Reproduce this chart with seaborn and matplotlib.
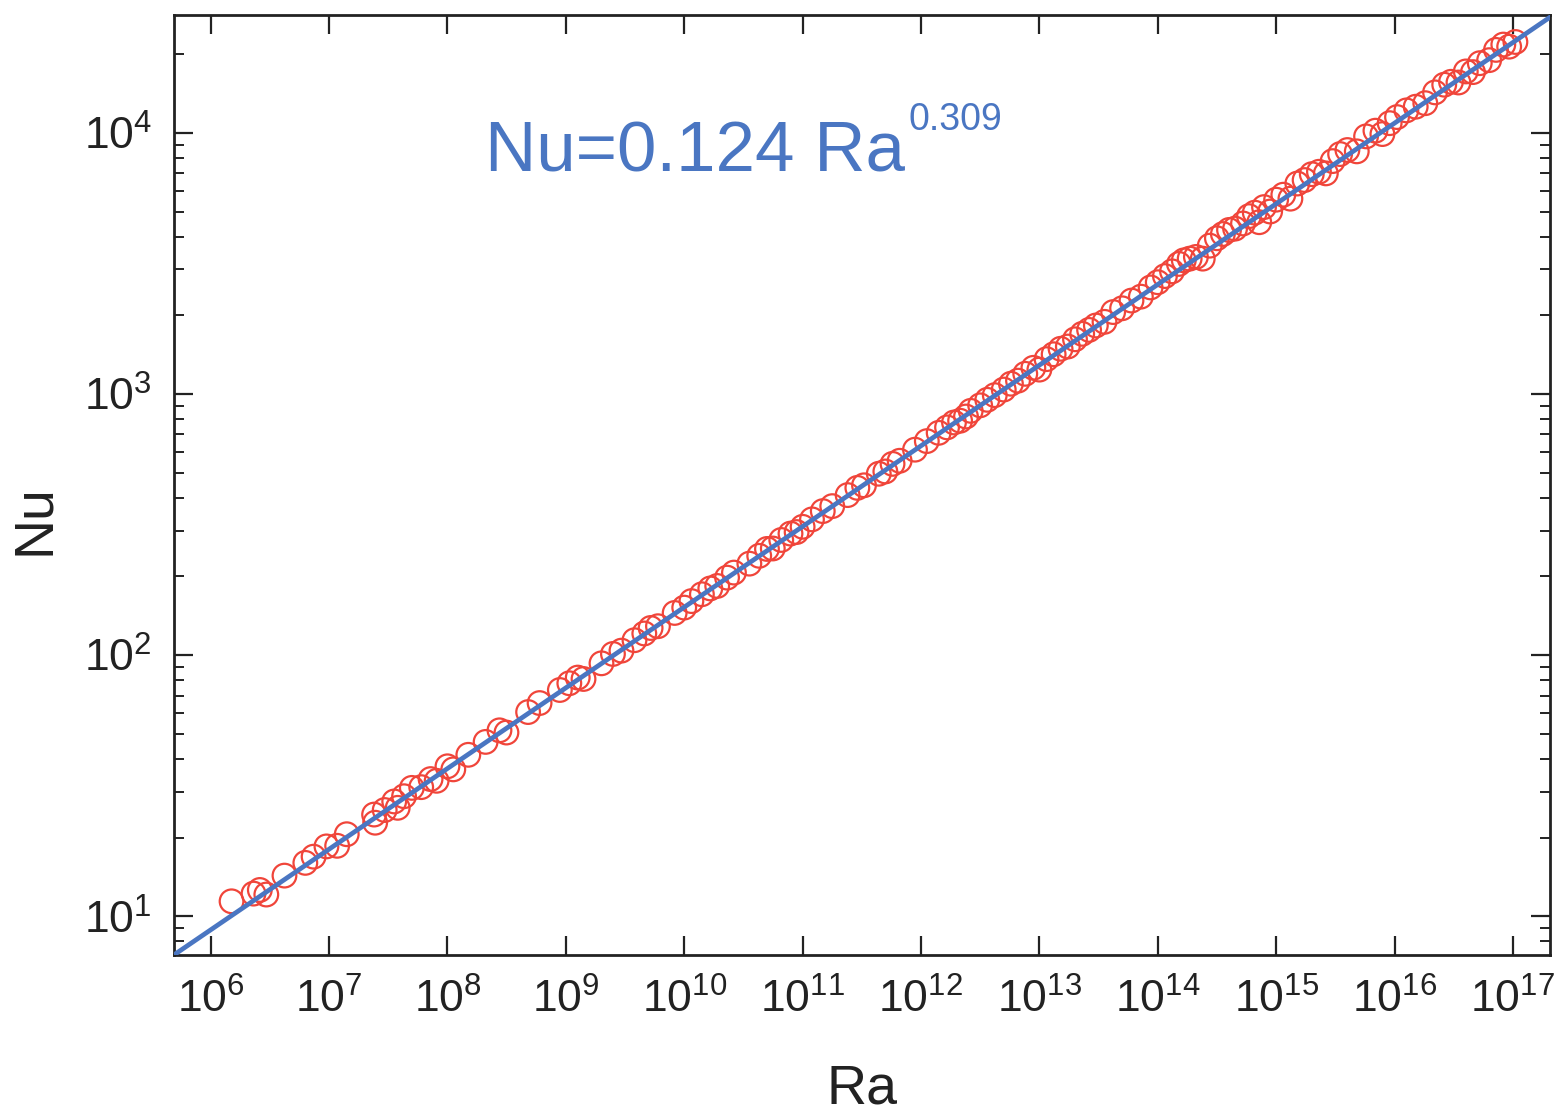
import matplotlib
matplotlib.use('Agg')
import matplotlib.pyplot as plt
import matplotlib.ticker as mticker
import seaborn as sns
import pandas as pd

# Ra, Nu
ra = [1.5e6, 2.3e6, 2.6e6, 2.95e6, 4.2e6, 6.3e6, 7.4e6, 9.5e6, 1.17e7, 1.41e7,
      2.4e7, 2.45e7, 2.95e7, 3.55e7, 3.8e7, 4.3e7, 5e7, 6e7, 7.2e7, 8.1e7,
      1e8, 1.12e8, 1.5e8, 2.1e8, 2.75e8, 3.15e8, 4.8e8, 6e8, 8.9e8, 1.07e9,
      1.26e9, 1.41e9, 2e9, 2.5e9, 2.95e9, 3.8e9, 4.6e9, 5.2e9, 6e9, 8.3e9,
      1e10, 1.15e10, 1.41e10, 1.66e10, 1.9e10, 2.3e10, 2.63e10, 3.55e10, 4.3e10, 5e10,
      5.6e10, 6.6e10, 7.9e10, 8.9e10, 1e11, 1.2e11, 1.48e11, 1.78e11, 2.4e11, 2.9e11,
      3.3e11, 4.4e11, 5e11, 5.75e11, 6.6e11, 8.9e11, 1.12e12, 1.41e12, 1.66e12, 1.9e12,
      2.14e12, 2.4e12, 2.63e12, 3.16e12, 3.63e12, 4.2e12, 5e12, 5.75e12, 6.6e12, 7.6e12,
      8.9e12, 1e13, 1.15e13, 1.32e13, 1.51e13, 1.74e13, 2e13, 2.3e13, 2.63e13, 3e13,
      3.55e13, 4.2e13, 5e13, 6e13, 7.2e13, 8.7e13, 1e14, 1.15e14, 1.32e14, 1.51e14,
      1.66e14, 1.86e14, 2.1e14, 2.4e14, 2.75e14, 3.16e14, 3.55e14, 4e14, 4.5e14, 5.25e14,
      5.9e14, 6.6e14, 7.2e14, 7.9e14, 8.9e14, 1e15, 1.15e15, 1.32e15, 1.51e15, 1.74e15,
      2e15, 2.3e15, 2.63e15, 3e15, 3.47e15, 4e15, 4.8e15, 5.75e15, 6.9e15, 7.9e15,
      9.1e15, 1.05e16, 1.26e16, 1.51e16, 1.82e16, 2.2e16, 2.63e16, 3e16, 3.47e16, 4e16,
      4.6e16, 5.25e16, 6.3e16, 7.2e16, 8.3e16, 9.3e16, 1.05e17]
nu = [11.4, 12.2, 12.6, 12.1, 14.3, 16.0, 16.9, 18.5, 18.6, 20.6,
      24.5, 22.8, 25.5, 27.5, 26.0, 28.8, 31.0, 31.2, 33.5, 33.0,
      37.5, 36.5, 41.5, 46.5, 51.5, 50.5, 60.5, 65.5, 73.5, 78.0,
      82.0, 81.0, 93.0, 101, 104, 114, 121, 127, 129, 145,
      152, 161, 171, 180, 184, 198, 207, 224, 240, 255,
      256, 276, 292, 296, 310, 331, 356, 372, 410, 437,
      447, 495, 505, 540, 555, 612, 660, 710, 745, 778,
      790, 820, 862, 905, 950, 990, 1040, 1095, 1125, 1195,
      1260, 1240, 1360, 1420, 1490, 1520, 1620, 1700, 1760, 1830,
      1890, 2060, 2130, 2280, 2360, 2560, 2680, 2830, 2950, 3150,
      3250, 3300, 3350, 3300, 3700, 3950, 4100, 4250, 4300, 4500,
      4800, 4950, 4550, 5200, 5000, 5550, 5800, 5600, 6400, 6600,
      6950, 7100, 7000, 7800, 8300, 8600, 8500, 9700, 10200, 9900,
      10900, 11500, 12200, 12600, 13000, 14300, 15300, 15700, 15600, 17200,
      17100, 18500, 19000, 20800, 21800, 21400, 22300]

# fit line Nu = 0.124 Ra^0.309, end points
fit_ra = [3e5, 3e17]
fit_nu = [6.11, 31180]

red = '#f0453a'
blue = '#4a76c2'

sns.set_style('ticks')
plt.rcParams['font.family'] = ['Liberation Sans', 'DejaVu Sans']
plt.rcParams['mathtext.fontset'] = 'custom'
plt.rcParams['mathtext.rm'] = 'Liberation Sans'
plt.rcParams['mathtext.it'] = 'Liberation Sans'

df = pd.DataFrame({'Ra': ra, 'Nu': nu})
fit = pd.DataFrame({'Ra': fit_ra, 'Nu': fit_nu})

fig = plt.figure(figsize=(15.58, 11.18), dpi=100)
ax = fig.add_axes([0.1117, 0.1458, 0.8832, 0.8408])

sns.scatterplot(data=df, x='Ra', y='Nu', ax=ax, marker='o', s=290,
                facecolor='none', edgecolor=red, linewidth=1.6, zorder=2)
sns.lineplot(data=fit, x='Ra', y='Nu', ax=ax, color=blue, linewidth=3.4, zorder=3)

ax.set_xscale('log')
ax.set_yscale('log')
ax.set_xlim(4.9e5, 2.06e17)
ax.set_ylim(7.1, 2.83e4)

ax.xaxis.set_major_locator(mticker.LogLocator(base=10, numticks=30))
ax.xaxis.set_minor_locator(mticker.NullLocator())
ax.yaxis.set_major_locator(mticker.LogLocator(base=10, numticks=30))
ax.yaxis.set_minor_locator(mticker.LogLocator(base=10, subs=range(2, 10), numticks=30))
ax.yaxis.set_minor_formatter(mticker.NullFormatter())

ax.tick_params(which='both', direction='in', top=True, right=True, color='#222222')
ax.tick_params(which='major', length=14, width=1.6, labelsize=32, labelcolor='#222222')
ax.tick_params(which='minor', length=7, width=1.4)
ax.tick_params(axis='x', which='major', pad=17)
ax.tick_params(axis='y', which='major', pad=16)

for sp in ax.spines.values():
    sp.set_linewidth(2)
    sp.set_color('#222222')

ax.set_xlabel('Ra', fontsize=40, color='#222222')
ax.set_ylabel('Nu', fontsize=40, color='#222222')
ax.xaxis.set_label_coords(0.5, -0.115)
ax.yaxis.set_label_coords(-0.082, 0.463)

# formula (pixel positions, origin bottom-left)
ax.text(485, 946, 'Nu=0.124 Ra', transform=None, fontsize=51, color=blue,
        ha='left', va='baseline')
ax.text(908, 988, '0.309', transform=None, fontsize=27, color=blue,
        ha='left', va='baseline')

fig.savefig('out.png', dpi=100)
